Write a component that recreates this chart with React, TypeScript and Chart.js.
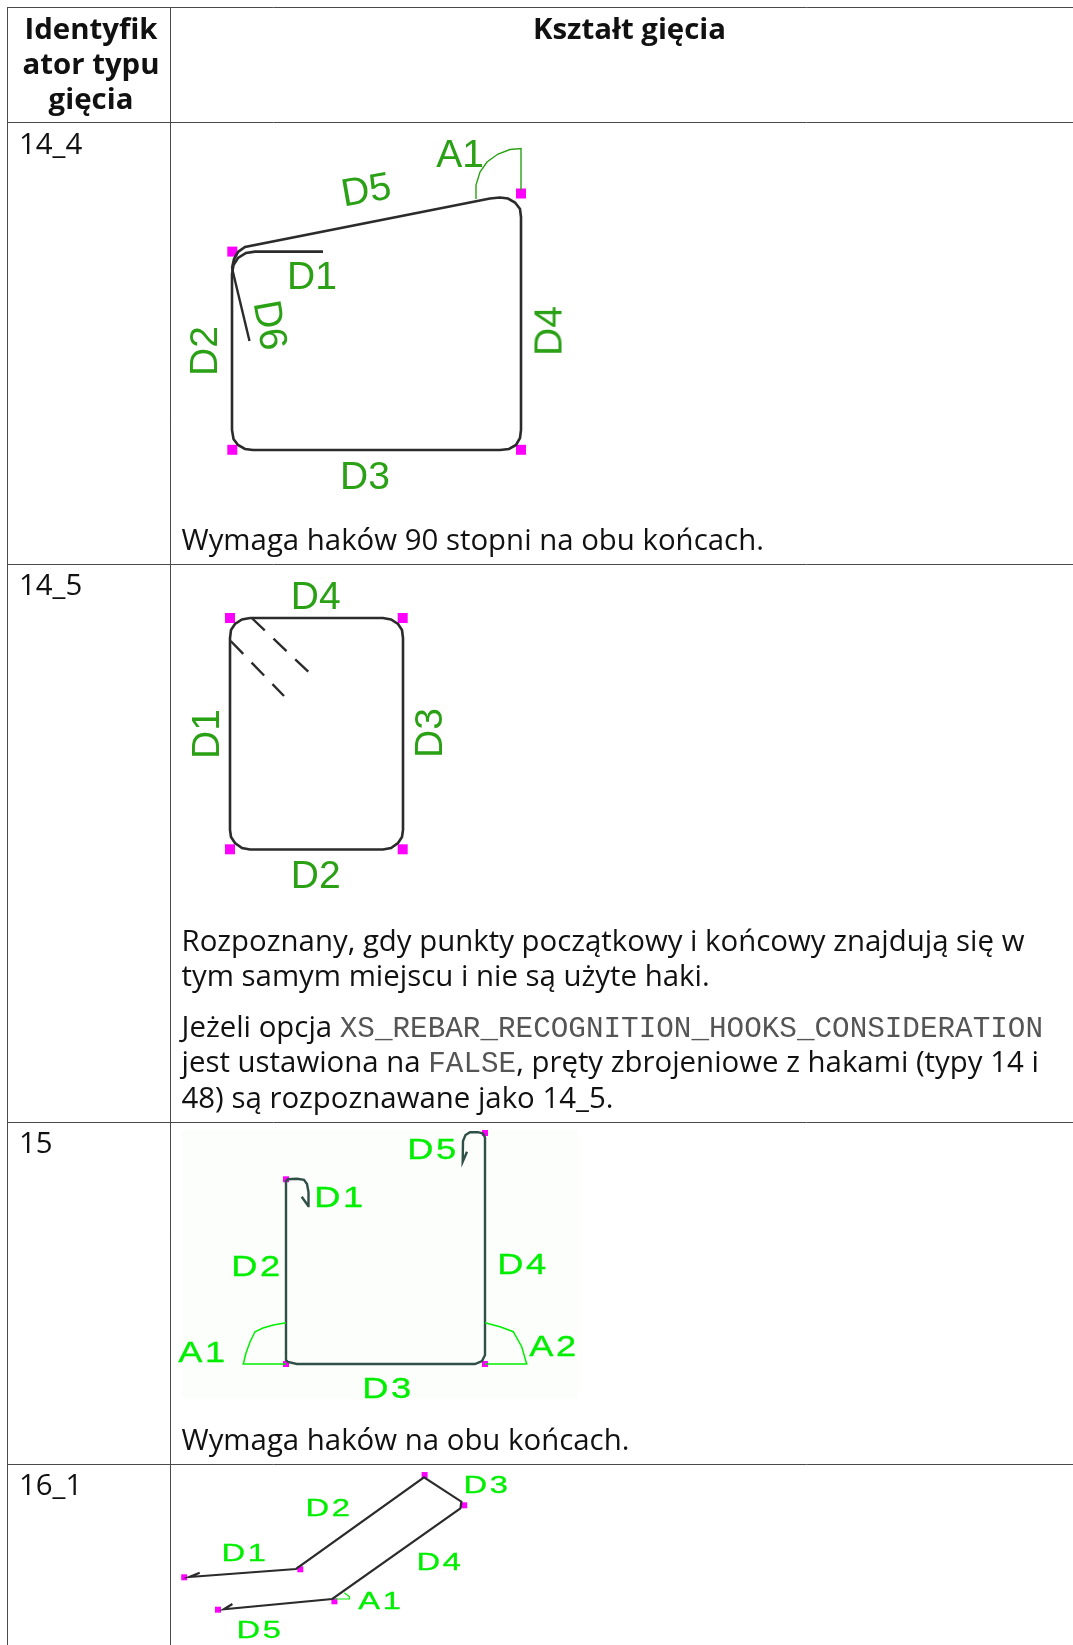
import React, { useEffect, useRef } from "react";
import { Chart, registerables } from "chart.js";

Chart.register(...registerables);

type P = [number, number];

// ---- table rules ----
const verticalRules: number[] = [7.5, 170.5];
const horizontalRules: number[] = [7.5, 122.5, 564.5, 1122.5, 1464.5];

// ---- shape 14_4 ----
const s144Outline: P[] = [[323,251.6],[255,251.6],[246,253],[238,258],[233.5,265],[232,274],[232,430],[233.5,439],[238,445],[245,449],[253,450],[500,450],[509,449],[516,445],[520,438],[521,430],[521,217],[520,209],[515,202.5],[508,198.5],[500,197.5],[490,198.5],[245,247],[238,252],[234,259],[232,268]];
const s144D6: P[] = [[232,268],[249.5,341]];
const s144Angle: P[] = [[521,190],[521,148.5],[510,149.5],[498,154],[487,162],[480,172],[476,185],[476,199]];
const s144Marks: P[] = [[521,193.5],[232.3,251.6],[232.3,449.8],[521,449.8]];

// ---- shape 14_5 ----
const s145Outline: P[] = [[250,618],[383,618],[391,619.5],[398,624],[402,630],[403,638],[403,830],[402,837],[398,843],[391,848],[383,849.5],[250,849.5],[242,848],[235,843],[231,837],[230,830],[230,638],[231,630],[235,624],[242,619.5],[250,618]];
const s145HookA: P[] = [[251.7,618],[308.3,671.7]];
const s145HookB: P[] = [[230.7,641],[284,696]];
const s145Marks: P[] = [[230,618],[402.7,618],[230,849.3],[402.7,849.3]];

// ---- shape 15 ----
const s15Outline: P[] = [[301.7,1196.7],[308.3,1206],[308.5,1192],[307,1184],[304,1179.8],[297,1178.8],[288,1179.3],[286,1181],[286,1360],[288,1362],[296.7,1364],[475,1364],[482,1361],[485,1355],[485,1137.5],[483,1133.5],[478,1132.2],[470,1132.2],[465.5,1135],[463,1141],[462.7,1161.7],[467,1151.7]];
const s15AngleA: P[] = [[286,1364],[243.3,1364],[246,1353],[250,1342],[255,1331.7],[263,1328],[273.3,1325],[286,1322.7]];
const s15AngleB: P[] = [[485,1364],[526.7,1364],[521.7,1346.7],[513.3,1331.7],[500,1326.7],[485,1322.7]];
const s15Marks: P[] = [[286,1179.3],[485,1133],[286,1364],[485,1364]];

// ---- shape 16_1 ----
const s161Outline: P[] = [[199.7,1572.7],[189.4,1577],[296,1569],[424,1477.3],[461.4,1501.7],[460.4,1508.3],[332.3,1599],[223.8,1609.3],[232.4,1604]];
const s161Angle: P[] = [[344.3,1592.7],[349.5,1596.7],[349.5,1599],[335,1599]];
const s161Marks: P[] = [[184.2,1577.3],[300.3,1569.3],[424.6,1475],[464.2,1505.3],[334.4,1601.3],[218,1609.7]];

// ---- labels ----
const s144Labels: [string, number, number, number][] = [["A1",460,152.7,0],["D5",366,188.5,-10],["D1",312,275,0],["D3",365,475,0],["D2",203,351,-90],["D4",548,331,-90],["D6",271,325,80]];
const s145Labels: [string, number, number, number][] = [["D4",315.7,595,0],["D2",315.7,874,0],["D1",205,734,-90],["D3",428,732.7,-90]];
const s15Labels: [string, number, number, number][] = [["D1",340,1197,0],["D5",432.7,1149.3,0],["D2",256.7,1265.7,0],["D4",523,1264,0],["A1",202.5,1352.3,0],["A2",554,1346,0],["D3",388.3,1388.3,0]];
const s161Labels: [string, number, number, number][] = [["D3",487,1485,0],["D2",328.9,1507.7,0],["D1",245,1553.3,0],["D4",439.5,1561.7,0],["A1",380.5,1600.7,0],["D5",260,1630,0]];

const INK = "#2b2b2b";
const RULE = "#4a4a4a";
const GREEN_A = "#2aa015";
const GREEN_B = "#00ee00";
const MARK = "#ff00ff";

const toXY = (ps: P[]) => ps.map(([x, y]) => ({ x, y }));
const line = (ps: P[], color: string, width: number, dash?: number[]) => ({
  type: "scatter" as const,
  data: toXY(ps),
  showLine: true,
  borderColor: color,
  borderWidth: width,
  borderDash: dash ?? [],
  pointRadius: 0,
  tension: 0,
  fill: false,
});
const marks = (ps: P[], side: number) => ({
  type: "scatter" as const,
  data: toXY(ps),
  showLine: false,
  pointStyle: "rect",
  pointRadius: side / Math.SQRT2,
  pointBackgroundColor: MARK,
  pointBorderWidth: 0,
});

const W = 1073;
const H = 1645;

function Label({ l, size, color, stretch, stroke, spacing }: { l: [string, number, number, number]; size: number; color: string; stretch?: number; stroke?: number; spacing?: number }) {
  return (
    <div
      style={{
        position: "absolute",
        left: l[1],
        top: l[2],
        transform: `translate(-50%,-50%) rotate(${l[3]}deg) scaleX(${stretch ?? 1})`,
        font: `${size}px/1 "Liberation Sans"`,
        color,
        letterSpacing: spacing ?? 0,
        WebkitTextStroke: stroke ? `${stroke}px ${color}` : undefined,
        whiteSpace: "nowrap",
      }}
    >
      {l[0]}
    </div>
  );
}

const BODY = 29.4;
function T({ x, y, children, bold, center }: { x: number; y: number; children: React.ReactNode; bold?: boolean; center?: boolean }) {
  return (
    <div
      style={{
        position: "absolute",
        left: x,
        top: y - 18,
        lineHeight: "36px",
        fontFamily: '"Open Sans"',
        fontSize: BODY,
        fontWeight: bold ? 700 : 400,
        color: "#111",
        whiteSpace: "nowrap",
        transform: center ? "translateX(-50%)" : undefined,
      }}
    >
      {children}
    </div>
  );
}
const Mono = ({ children }: { children: React.ReactNode }) => (
  <span style={{ fontFamily: '"Liberation Mono"', fontSize: 29.3, color: "#555" }}>{children}</span>
);

export default function App() {
  const ref = useRef<HTMLCanvasElement | null>(null);
  useEffect(() => {
    const prev = document.body.style.margin;
    document.body.style.margin = "0";
    const rules = [
      ...verticalRules.map((x) => line([[x, 7], [x, H]], RULE, 1)),
      ...horizontalRules.map((y) => line([[7, y], [W, y]], RULE, 1)),
    ];
    const chart = new Chart(ref.current as HTMLCanvasElement, {
      type: "scatter",
      data: {
        datasets: [
          ...rules,
          line(s144Angle, GREEN_A, 1.4),
          line(s144Outline, INK, 2.6),
          line(s144D6, INK, 2.4),
          marks(s144Marks, 10),
          line(s145Outline, INK, 2.6),
          line(s145HookA, INK, 2.4, [18, 12]),
          line(s145HookB, INK, 2.4, [18, 12]),
          marks(s145Marks, 10),
          line(s15AngleA, GREEN_B, 1.5),
          line(s15AngleB, GREEN_B, 1.5),
          line(s15Outline, "#2f4f47", 2.4),
          marks(s15Marks, 6),
          line(s161Angle, GREEN_B, 1.2),
          line(s161Outline, INK, 2.2),
          marks(s161Marks, 6),
        ] as any,
      },
      options: {
        animation: false,
        responsive: false,
        layout: { padding: 0, autoPadding: false },
        plugins: { legend: { display: false }, tooltip: { enabled: false } },
        scales: {
          x: { type: "linear", min: 0, max: W, display: false },
          y: { type: "linear", min: 0, max: H, reverse: true, display: false },
        },
      },
    });
    return () => {
      chart.destroy();
      document.body.style.margin = prev;
    };
  }, []);

  return (
    <div style={{ position: "relative", width: W, height: H, overflow: "hidden", background: "#fff" }}>
      <div style={{ position: "absolute", left: 182, top: 1130, width: 395, height: 268, background: "#fbfefb" }} />
      <canvas ref={ref} width={W} height={H} style={{ position: "absolute", left: 0, top: 0, display: "block" }} />

      <T x={91} y={28} bold center>Identyfik</T>
      <T x={91} y={63} bold center>ator typu</T>
      <T x={91} y={97.5} bold center>gięcia</T>
      <T x={629.5} y={28} bold center>Kształt gięcia</T>

      <T x={19} y={142.6}>14_4</T>
      <T x={181.5} y={539}>Wymaga haków 90 stopni na obu końcach.</T>

      <T x={19} y={584}>14_5</T>
      <T x={181.5} y={940}>Rozpoznany, gdy punkty początkowy i końcowy znajdują się w</T>
      <T x={181.5} y={974.5}>tym samym miejscu i nie są użyte haki.</T>
      <T x={181.5} y={1026}>Jeżeli opcja <Mono>XS_REBAR_RECOGNITION_HOOKS_CONSIDERATION</Mono></T>
      <T x={181.5} y={1060.5}>jest ustawiona na <Mono>FALSE</Mono>, pręty zbrojeniowe z hakami (typy 14 i</T>
      <T x={181.5} y={1097}>48) są rozpoznawane jako 14_5.</T>

      <T x={19} y={1142}>15</T>
      <T x={181.5} y={1439}>Wymaga haków na obu końcach.</T>

      <T x={19} y={1484}>16_1</T>

      {s144Labels.map((l, i) => <Label key={"a" + i} l={l} size={39} color={GREEN_A} />)}
      {s145Labels.map((l, i) => <Label key={"b" + i} l={l} size={39} color={GREEN_A} />)}
      {s15Labels.map((l, i) => <Label key={"c" + i} l={l} size={29} color={GREEN_B} stretch={1.25} stroke={0.3} spacing={2} />)}
      {s161Labels.map((l, i) => <Label key={"d" + i} l={l} size={24} color={GREEN_B} stretch={1.36} stroke={0.3} spacing={2} />)}
    </div>
  );
}
